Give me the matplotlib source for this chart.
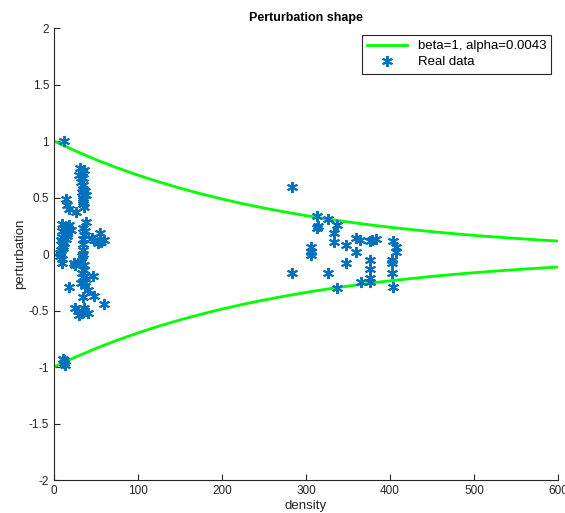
import matplotlib
matplotlib.use("Agg")
import matplotlib.pyplot as plt

plt.rcParams['font.family'] = ['Liberation Sans', 'DejaVu Sans']

# envelope curve (upper branch, lower is mirrored)
curve_x = [0, 25, 50, 75, 100, 125, 150, 175, 200, 225, 250, 275, 300,
           325, 350, 375, 400, 425, 450, 475, 500, 525, 550, 575, 600]
curve_upper = [1.000, 0.914, 0.835, 0.763, 0.698, 0.638, 0.583, 0.533, 0.487,
               0.445, 0.407, 0.372, 0.340, 0.310, 0.284, 0.259, 0.237, 0.217,
               0.198, 0.181, 0.165, 0.151, 0.138, 0.126, 0.115]
curve_lower = [-v for v in curve_upper]

# measured points, low density group
left_x = [12,
          31, 33, 30, 35, 32, 35, 34, 33, 38, 35, 34, 36, 37, 35, 36, 34,
          14, 16, 18, 26,
          10, 18, 17, 20, 10, 16, 14, 12, 11, 8, 7, 7, 9, 10, 13, 8, 9, 11, 15,
          38, 34, 36, 35, 34, 33, 32, 36, 34, 38, 32, 40, 34, 35, 36, 33, 37, 35, 37,
          25, 18, 47, 48, 59, 24,
          48, 56, 60, 55, 52, 45,
          25, 30, 36, 40, 28, 33,
          11, 12, 13, 12]
left_y = [1.0,
          0.76, 0.73, 0.70, 0.67, 0.64, 0.61, 0.58, 0.55, 0.52, 0.50, 0.46, 0.42, 0.56, 0.44, 0.74, 0.48,
          0.49, 0.43, 0.40, 0.37,
          0.27, 0.26, 0.23, 0.21, 0.20, 0.16, 0.13, 0.10, 0.05, 0.04, 0.01, -0.02, -0.08, 0.15, 0.22, 0.12, -0.04, 0.07, 0.18,
          0.285, 0.23, 0.17, 0.09, 0.035, -0.02, -0.07, -0.14, -0.20, -0.22, -0.26, -0.32, -0.38, 0.13, -0.10, -0.17, -0.28, 0.0, 0.2,
          -0.10, -0.29, -0.19, -0.37, -0.44, -0.08,
          0.12, 0.11, 0.12, 0.19, 0.10, 0.14,
          -0.48, -0.54, -0.48, -0.52, -0.50, -0.52,
          -0.93, -0.96, -0.98, -0.94]

# measured points, high density group
right_x = [283, 313, 326, 337, 313, 333, 333, 348, 360, 364, 376, 383, 403,
           407, 407, 306, 306, 306, 360, 348, 376, 376, 402, 402, 283, 326,
           402, 376, 376, 365, 337, 403, 379, 314]
right_y = [0.59, 0.34, 0.31, 0.26, 0.23, 0.19, 0.11, 0.08, 0.14, 0.12, 0.115,
           0.13, 0.115, 0.06, 0.02, 0.065, 0.02, -0.01, 0.02, -0.08, -0.05,
           -0.13, -0.05, -0.08, -0.17, -0.165, -0.17, -0.215, -0.245, -0.245,
           -0.30, -0.295, 0.12, 0.25]

fig = plt.figure(figsize=(5.65, 5.13), dpi=100)
ax = fig.add_axes([0.0956, 0.0643, 0.892, 0.881])

ax.plot(curve_x, curve_upper, color='#00ff00', lw=2, label='beta=1, alpha=0.0043')
ax.plot(curve_x, curve_lower, color='#00ff00', lw=2)
ax.plot(left_x + right_x, left_y + right_y, ls='none', marker=(6, 2, 0),
        ms=8, mew=1.4, color='#0072bd', label='Real data')

ax.set_xlim(0, 600)
ax.set_ylim(-2, 2)
ax.set_xticks(range(0, 601, 100))
yt = [-2, -1.5, -1, -0.5, 0, 0.5, 1, 1.5, 2]
ax.set_yticks(yt)
ax.set_yticklabels(['%g' % v for v in yt])

for s in ['top', 'right']:
    ax.spines[s].set_visible(False)
for s in ['left', 'bottom']:
    ax.spines[s].set_color('#262626')
    ax.spines[s].set_linewidth(0.8)
ax.tick_params(direction='in', length=4, width=0.8, colors='#262626',
               labelsize=8.5)

ax.set_title('Perturbation shape', fontsize=9, fontweight='bold', pad=5)
ax.set_xlabel('density', fontsize=9.5, color='#262626', labelpad=2)
ax.set_ylabel('perturbation', fontsize=9.5, color='#262626', labelpad=2)

leg = ax.legend(loc='upper right', fontsize=9.5, fancybox=False,
                edgecolor='#262626', framealpha=1, borderaxespad=0.5,
                handlelength=3, borderpad=0.4, labelspacing=0.3)
leg.get_frame().set_linewidth(0.8)

fig.savefig('out.png', dpi=100)
